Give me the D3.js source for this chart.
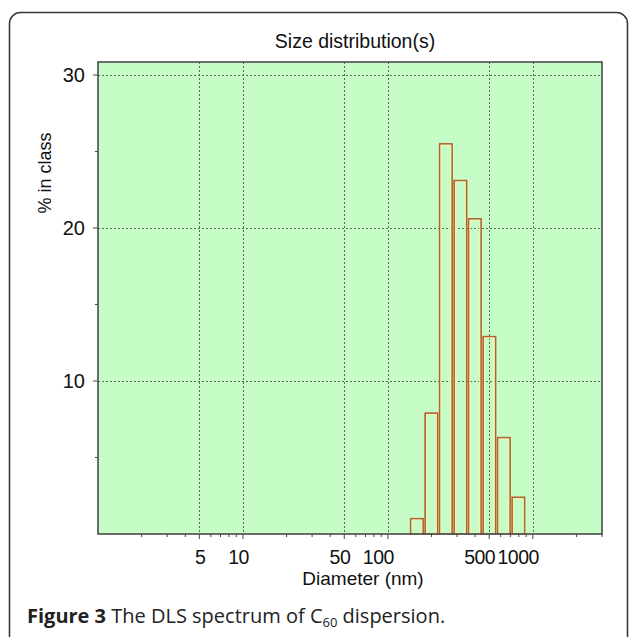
<!DOCTYPE html>
<html>
<head>
<meta charset="utf-8">
<script src="https://cdn.jsdelivr.net/npm/d3@7/dist/d3.min.js"></script>
<style>
  html, body { margin: 0; padding: 0; background: #ffffff; }
  svg { display: block; }
</style>
</head>
<body>
<div id="chart"></div>
<script>
// ---- Data ----
const binCenters = [158.5, 199.5, 251.2, 316.2, 398.1, 501.2, 631.0, 794.3]; // diameter class centres, nm
const percentInClass = [1.0, 7.9, 25.5, 23.1, 20.6, 12.9, 6.3, 2.4];         // % in class
const xTickLabels = [5, 10, 50, 100, 500, 1000];
const xMinorTicks = [2, 3, 4, 6, 7, 8, 9, 20, 30, 40, 60, 70, 80, 90, 200, 300, 400, 600, 700, 800, 900, 2000, 3000];
const yTickLabels = [10, 20, 30];
const yMinorTicks = [5, 15, 25];
const xDomain = [1, 3000];
const yDomain = [0, 30.85];
const classHalfWidthDecades = 0.043;

const W = 629, H = 637;
const plot = { left: 98, right: 602, top: 62, bottom: 534 };

const svg = d3.select("#chart").append("svg")
  .attr("width", W).attr("height", H);

// outer rounded frame
svg.append("rect")
  .attr("x", 9.5).attr("y", 12.5)
  .attr("width", 618).attr("height", 660)
  .attr("rx", 11).attr("ry", 11)
  .attr("fill", "#ffffff")
  .attr("stroke", "#3a3a3a").attr("stroke-width", 1.6);

const x = d3.scaleLog().domain(xDomain).range([plot.left, plot.right]);
const y = d3.scaleLinear().domain(yDomain).range([plot.bottom, plot.top]);

// plot background
svg.append("rect")
  .attr("x", plot.left).attr("y", plot.top)
  .attr("width", plot.right - plot.left).attr("height", plot.bottom - plot.top)
  .attr("fill", "#c6fdc6");

// grid lines
const grid = svg.append("g").attr("stroke", "#5a6a5a").attr("stroke-width", 1)
  .attr("stroke-dasharray", "2,2");
grid.selectAll("line.vx").data(xTickLabels).join("line")
  .attr("x1", d => Math.round(x(d)) + 0.5).attr("x2", d => Math.round(x(d)) + 0.5)
  .attr("y1", plot.top).attr("y2", plot.bottom);
grid.selectAll("line.hy").data(yTickLabels).join("line")
  .attr("y1", d => Math.round(y(d)) + 0.5).attr("y2", d => Math.round(y(d)) + 0.5)
  .attr("x1", plot.left).attr("x2", plot.right);

// bars
const data = binCenters.map((c, i) => ({ c, v: percentInClass[i] }));
const f = Math.pow(10, classHalfWidthDecades);
const bars = svg.append("g");
bars.selectAll("rect.outer").data(data).join("rect")
  .attr("x", d => x(d.c / f))
  .attr("width", d => x(d.c * f) - x(d.c / f))
  .attr("y", d => y(d.v))
  .attr("height", d => y(0) - y(d.v))
  .attr("fill", "none")
  .attr("stroke", "#b5602e").attr("stroke-width", 1.6);
bars.selectAll("rect.inner").data(data).join("rect")
  .attr("x", d => x(d.c / f) + 1.5)
  .attr("width", d => Math.max(0, x(d.c * f) - x(d.c / f) - 3))
  .attr("y", d => y(d.v) + 1.5)
  .attr("height", d => Math.max(0, y(0) - y(d.v) - 1.5))
  .attr("fill", "none")
  .attr("stroke", "#f4f3b0").attr("stroke-width", 1);

// plot border
svg.append("rect")
  .attr("x", plot.left).attr("y", plot.top)
  .attr("width", plot.right - plot.left).attr("height", plot.bottom - plot.top)
  .attr("fill", "none").attr("stroke", "#4a4a4a").attr("stroke-width", 1.6);

// x ticks
const tk = svg.append("g").attr("stroke", "#444").attr("stroke-width", 1);
tk.selectAll("line.xmaj").data(xTickLabels).join("line")
  .attr("x1", d => x(d)).attr("x2", d => x(d))
  .attr("y1", plot.bottom).attr("y2", plot.bottom + 5);
tk.selectAll("line.xmin").data(xMinorTicks).join("line")
  .attr("x1", d => x(d)).attr("x2", d => x(d))
  .attr("y1", plot.bottom).attr("y2", plot.bottom + 3);
// y ticks
tk.selectAll("line.ymaj").data(yTickLabels).join("line")
  .attr("y1", d => y(d)).attr("y2", d => y(d))
  .attr("x1", plot.left - 5).attr("x2", plot.left);
tk.selectAll("line.ymin").data(yMinorTicks).join("line")
  .attr("y1", d => y(d)).attr("y2", d => y(d))
  .attr("x1", plot.left - 3).attr("x2", plot.left);

const font = "'Liberation Sans', Arial, sans-serif";

// x tick labels
svg.append("g").selectAll("text").data(xTickLabels).join("text")
  .attr("x", d => x(d) + 6).attr("y", 564)
  .attr("text-anchor", "end")
  .attr("font-family", font).attr("font-size", 19.5)
  .attr("letter-spacing", "-0.5")
  .attr("fill", "#111")
  .text(d => d);

// y tick labels
svg.append("g").selectAll("text").data(yTickLabels).join("text")
  .attr("x", 85).attr("y", d => y(d))
  .attr("dy", "0.36em")
  .attr("text-anchor", "end")
  .attr("font-family", font).attr("font-size", 20)
  .attr("fill", "#111")
  .text(d => d);

// title
svg.append("text")
  .attr("x", 355).attr("y", 48)
  .attr("text-anchor", "middle")
  .attr("font-family", font).attr("font-size", 19.5)
  .attr("fill", "#111")
  .text("Size distribution(s)");

// x axis title
svg.append("text")
  .attr("x", 363).attr("y", 585)
  .attr("text-anchor", "middle")
  .attr("font-family", font).attr("font-size", 19)
  .attr("fill", "#111")
  .text("Diameter (nm)");

// y axis title
svg.append("text")
  .attr("transform", "translate(51,173) rotate(-90)")
  .attr("text-anchor", "middle")
  .attr("font-family", font).attr("font-size", 18)
  .attr("fill", "#111")
  .text("% in class");

// caption
const cap = svg.append("text")
  .attr("x", 27).attr("y", 623)
  .attr("font-family", "'Open Sans', 'Noto Sans', sans-serif")
  .attr("font-size", 20)
  .attr("fill", "#222");
cap.append("tspan").attr("font-weight", "bold").text("Figure 3");
cap.append("tspan").text(" The DLS spectrum of C");
cap.append("tspan").attr("font-size", 13).attr("dy", 4).text("60");
cap.append("tspan").attr("dy", -4).text(" dispersion.");
</script>
</body>
</html>
